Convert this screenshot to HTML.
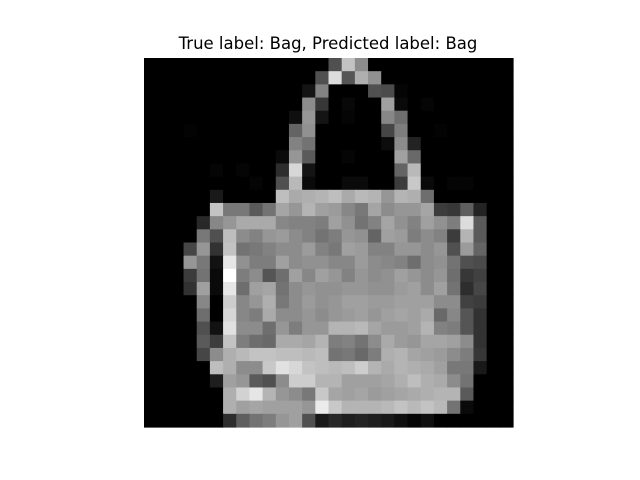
<!DOCTYPE html>
<html><head><meta charset="utf-8"><style>
html,body{margin:0;padding:0;background:#fff;width:640px;height:480px;overflow:hidden}
svg{display:block}
</style></head><body>
<svg id="chart" width="640" height="480">
<text x="328" y="49" text-anchor="middle" font-family="DejaVu Sans, Liberation Sans, sans-serif" font-size="16.5" fill="#000">True label: Bag, Predicted label: Bag</text>
<g id="cells"></g>
</svg>
<script>
const rows = [
[0,0,0,0,0,0,0,0,0,0,0,0,0,0,80,195,140,0,0,0,0,0,0,0,0,0,0,0],
[0,0,0,0,0,0,0,0,0,0,0,0,0,80,220,85,175,145,0,0,0,0,0,0,0,0,0,0],
[0,0,0,0,0,0,0,0,0,0,0,0,20,130,0,0,0,80,75,5,0,0,0,0,0,0,0,0],
[0,0,0,0,0,0,0,0,0,0,0,0,140,55,0,8,0,0,160,10,0,5,0,0,0,0,0,0],
[0,0,0,0,0,0,0,0,0,0,0,15,150,20,0,5,0,0,135,110,0,0,0,0,0,0,0,0],
[0,0,0,3,0,0,0,0,0,0,0,100,145,0,0,0,0,0,70,125,0,0,3,0,0,0,0,0],
[0,0,0,0,0,0,0,0,0,0,0,130,115,0,0,0,0,0,12,140,35,0,0,0,0,0,0,0],
[0,0,0,0,0,0,0,0,0,0,10,150,90,0,0,5,0,0,0,160,105,0,0,0,0,0,0,0],
[0,0,0,0,0,5,0,5,0,0,45,215,20,0,0,0,0,0,0,100,185,0,0,0,0,0,0,0],
[0,0,0,0,0,0,0,0,5,0,80,185,10,0,0,10,10,0,0,60,200,10,0,5,5,0,0,0],
[0,0,0,0,0,25,0,0,0,0,190,170,175,180,190,170,185,180,150,180,175,110,0,0,0,0,0,0],
[0,0,0,0,0,195,120,120,90,115,165,150,180,160,155,135,120,165,140,150,150,165,60,55,95,35,0,0],
[0,0,0,0,40,135,150,170,170,170,135,130,130,125,160,145,115,130,165,145,130,160,145,125,220,90,0,0],
[0,0,0,0,120,80,190,140,130,150,155,140,130,115,125,150,145,100,160,155,125,140,130,60,180,90,0,0],
[0,0,0,70,150,50,195,115,120,130,140,140,155,130,120,160,155,130,130,150,150,140,150,80,155,100,0,0],
[0,0,0,150,120,18,230,145,125,125,160,140,145,145,135,135,155,140,135,130,110,140,145,115,80,75,0,0],
[0,0,0,60,115,10,255,125,140,85,110,160,135,160,150,130,150,140,145,160,150,140,150,110,55,65,0,0],
[0,0,0,50,160,10,230,110,160,165,115,140,150,145,145,150,150,145,145,155,160,140,160,115,45,70,0,0],
[0,0,0,0,135,0,205,135,150,175,120,140,155,145,150,160,160,155,155,160,160,160,140,140,65,60,0,0],
[0,0,0,0,110,0,215,135,125,170,140,140,150,140,150,155,160,150,160,165,160,170,105,135,85,50,0,0],
[0,0,0,0,80,18,225,140,140,110,150,125,150,150,180,180,185,165,155,155,160,180,130,125,85,50,0,0],
[0,0,0,0,90,60,195,125,110,105,170,170,165,180,125,130,115,140,170,155,150,165,165,160,140,50,0,0],
[0,0,0,0,70,140,175,185,195,195,190,190,185,190,115,120,105,125,175,180,165,160,155,140,125,55,0,0],
[0,0,0,0,0,190,175,140,140,200,225,215,195,190,185,190,205,180,170,180,175,170,160,120,120,25,0,0],
[0,0,0,0,0,30,160,150,90,80,140,205,205,180,180,160,160,160,165,175,190,175,170,140,115,0,0,0],
[0,0,0,0,0,0,175,210,230,180,150,140,120,200,165,160,165,155,160,165,170,175,180,180,90,0,0,0],
[0,0,0,0,0,0,175,160,165,160,160,160,150,235,200,180,180,180,185,195,185,195,185,115,10,0,0,0],
[0,0,0,0,0,0,45,95,115,125,150,160,80,25,40,30,35,30,25,15,5,15,0,0,0,0,0,0]
];
const x0 = 144, y0 = 58, size = 369;
const n = rows.length;
const cell = size / n;
const xScale = c => x0 + c * cell;
const yScale = r => y0 + r * cell;
const g = document.getElementById('cells');
const NS = 'http://www.w3.org/2000/svg';
rows.forEach((row, r) => {
  row.forEach((v, c) => {
    const rect = document.createElementNS(NS, 'rect');
    rect.setAttribute('x', xScale(c).toFixed(2));
    rect.setAttribute('y', yScale(r).toFixed(2));
    rect.setAttribute('width', (cell + 0.6).toFixed(2));
    rect.setAttribute('height', (cell + 0.6).toFixed(2));
    rect.setAttribute('fill', `rgb(${v},${v},${v})`);
    
    
    g.appendChild(rect);
  });
});
</script>
</body></html>
